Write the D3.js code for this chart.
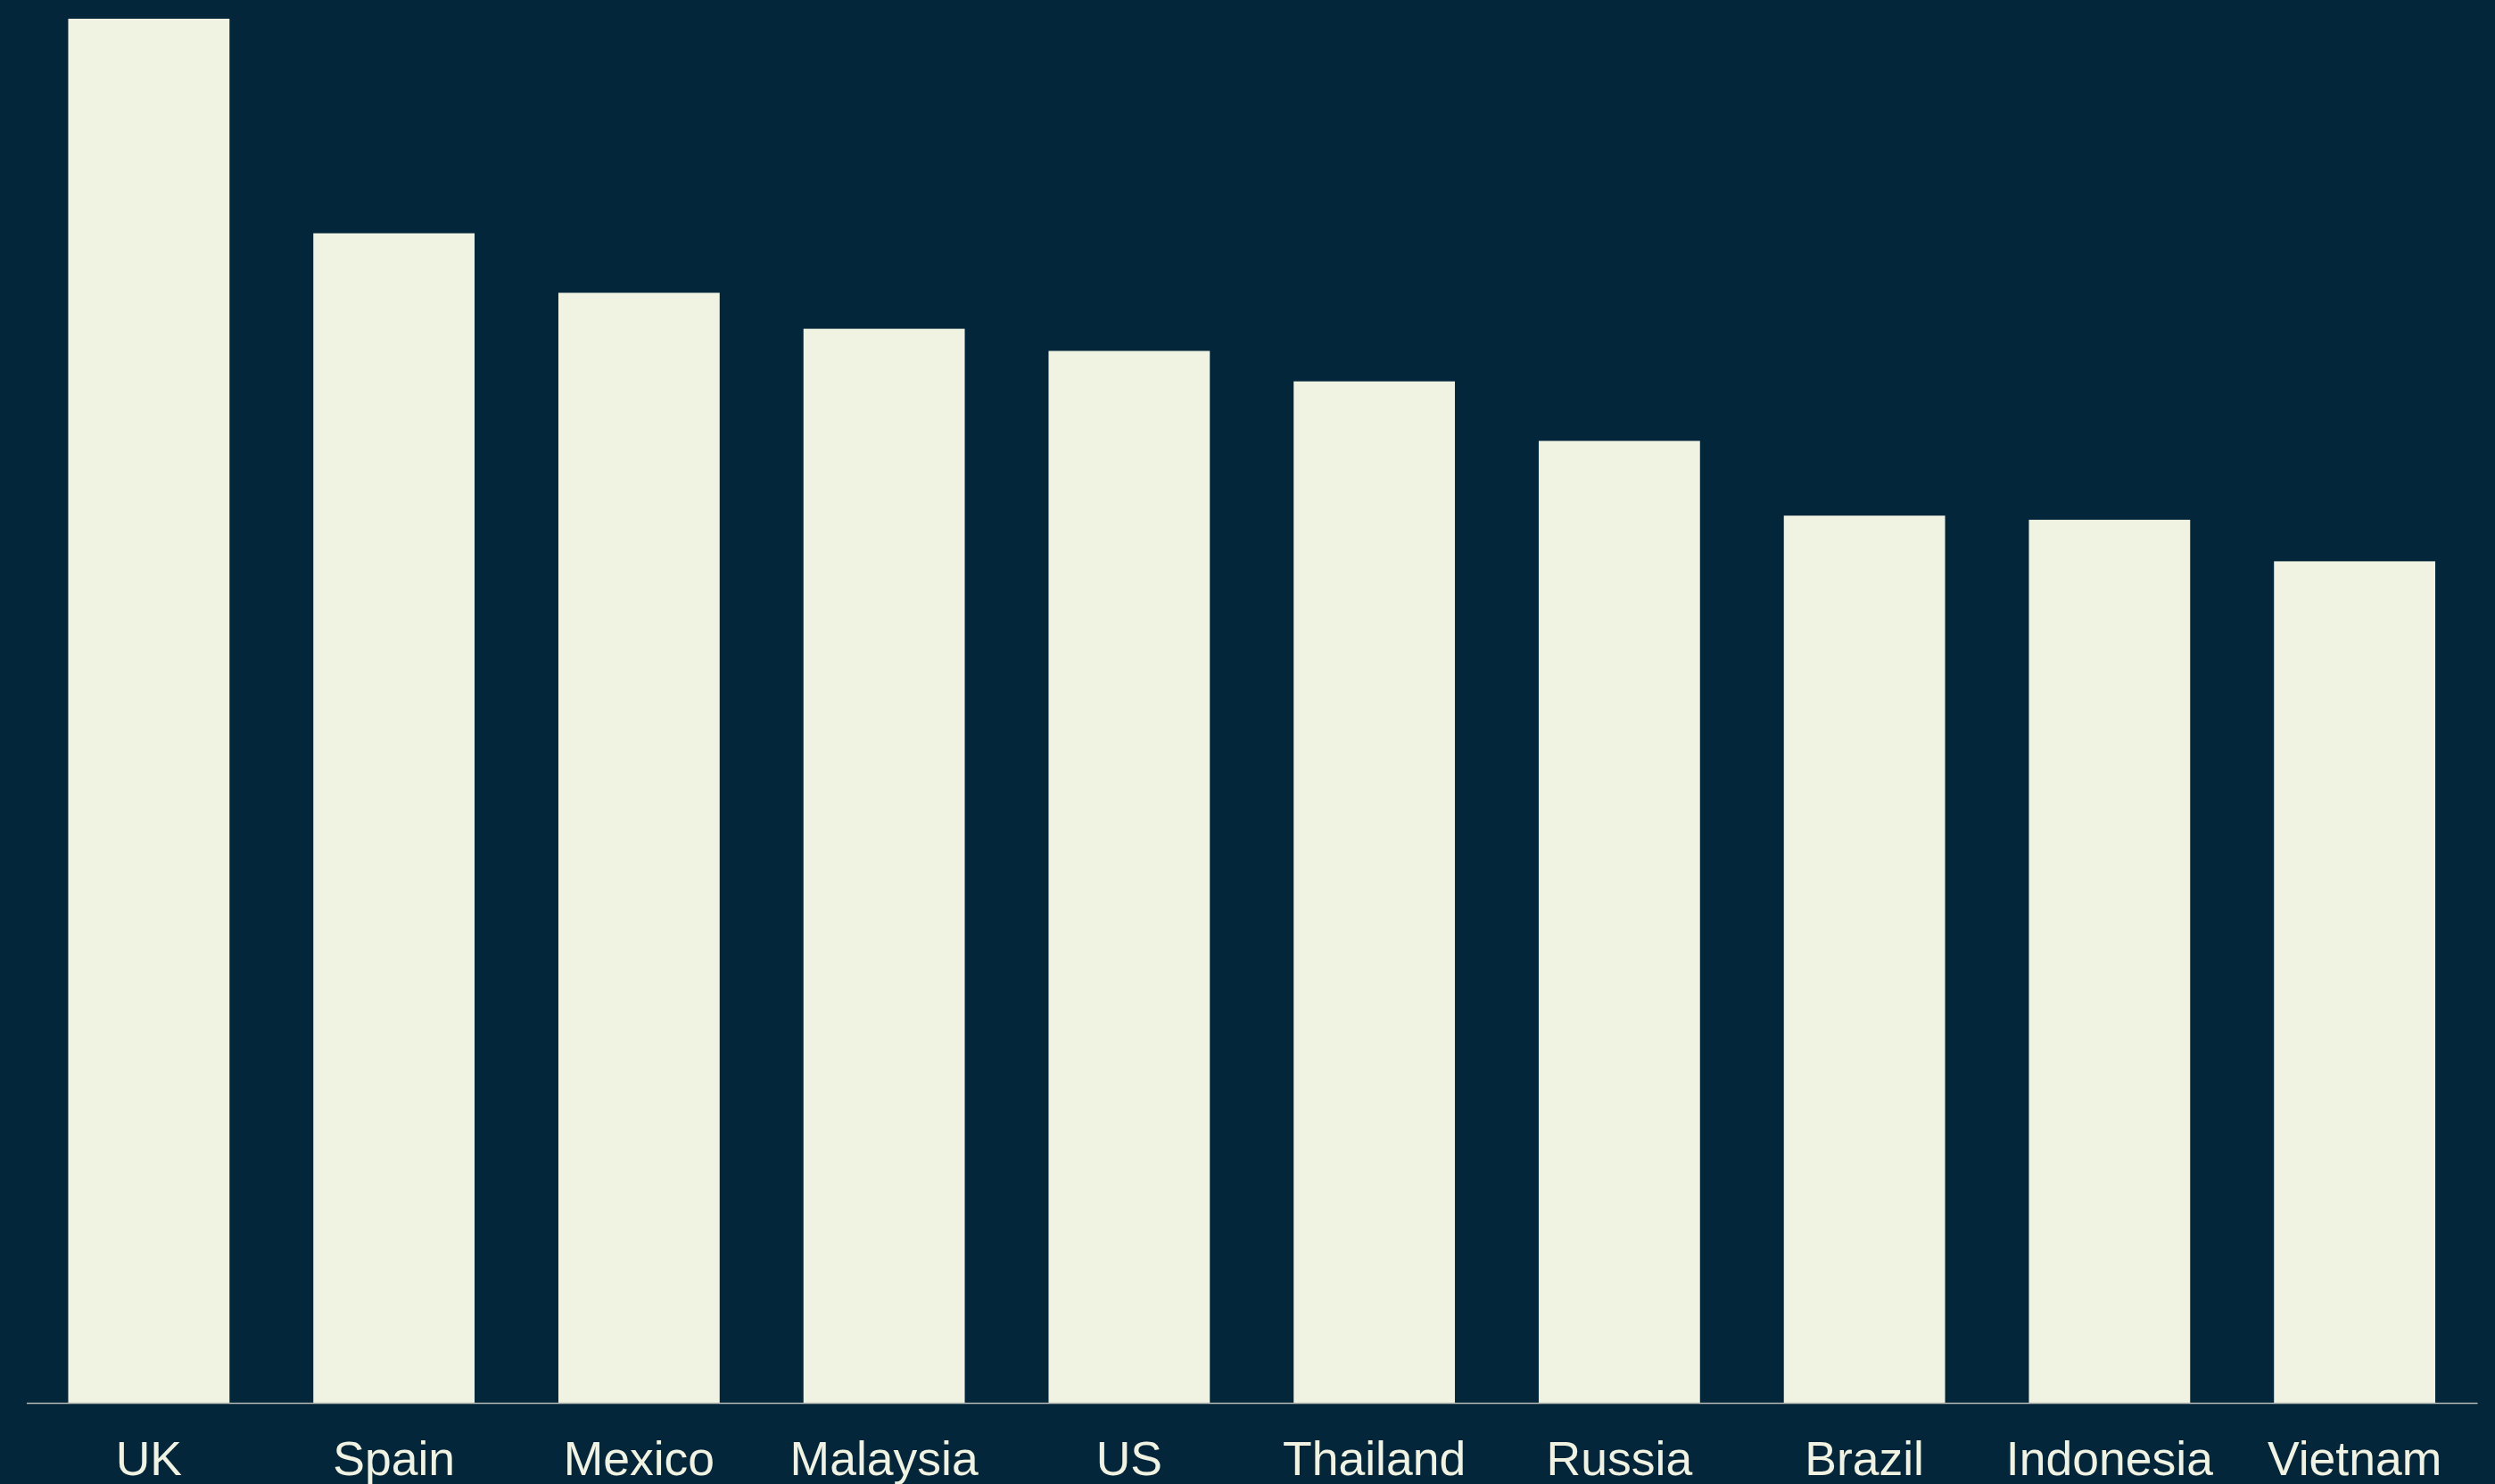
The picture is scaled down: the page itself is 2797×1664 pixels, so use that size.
<!DOCTYPE html>
<html>
<head>
<meta charset="utf-8">
<script src="https://cdn.jsdelivr.net/npm/d3@7"></script>
<style>
  html, body { margin: 0; padding: 0; background: #04263a; }
  svg { display: block; }
</style>
</head>
<body>
<svg id="chart" width="2797" height="1664"></svg>
<script>
// Index values per country (UK = 100)
const countries = ["UK", "Spain", "Mexico", "Malaysia", "US", "Thailand", "Russia", "Brazil", "Indonesia", "Vietnam"];
const values = [100, 84.5, 80.2, 77.6, 76.0, 73.8, 69.5, 64.1, 63.8, 60.8];

const W = 2797, H = 1664;
const margin = { left: 29.5, right: 20, top: 21, baseline: 1573 };
const bg = "#04263a", ink = "#f0f3e1";

const svg = d3.select("#chart");
svg.append("rect").attr("width", W).attr("height", H).attr("fill", bg);

const x = d3.scaleBand()
  .domain(countries)
  .range([margin.left, W - margin.right])
  .paddingInner(0.342)
  .paddingOuter(0.171);

const y = d3.scaleLinear()
  .domain([0, 100])
  .range([margin.baseline, margin.top]);

const data = countries.map((c, i) => ({ country: c, value: values[i] }));

svg.append("g")
  .selectAll("rect")
  .data(data)
  .join("rect")
  .attr("x", d => x(d.country))
  .attr("y", d => y(d.value))
  .attr("width", x.bandwidth())
  .attr("height", d => y(0) - y(d.value))
  .attr("fill", ink);

const axis = svg.append("g")
  .attr("transform", `translate(0,${margin.baseline})`)
  .call(d3.axisBottom(x).tickSize(0).tickPadding(0).tickSizeOuter(0));

axis.select(".domain")
  .attr("stroke", "#b4b8b4")
  .attr("stroke-width", 1.5);

axis.selectAll(".tick text")
  .attr("y", 0)
  .attr("dy", 0)
  .attr("transform", "translate(0,81)")
  .attr("fill", ink)
  .attr("font-family", "'Liberation Sans', Arial, sans-serif")
  .attr("font-size", 53.5);
</script>
</body>
</html>
